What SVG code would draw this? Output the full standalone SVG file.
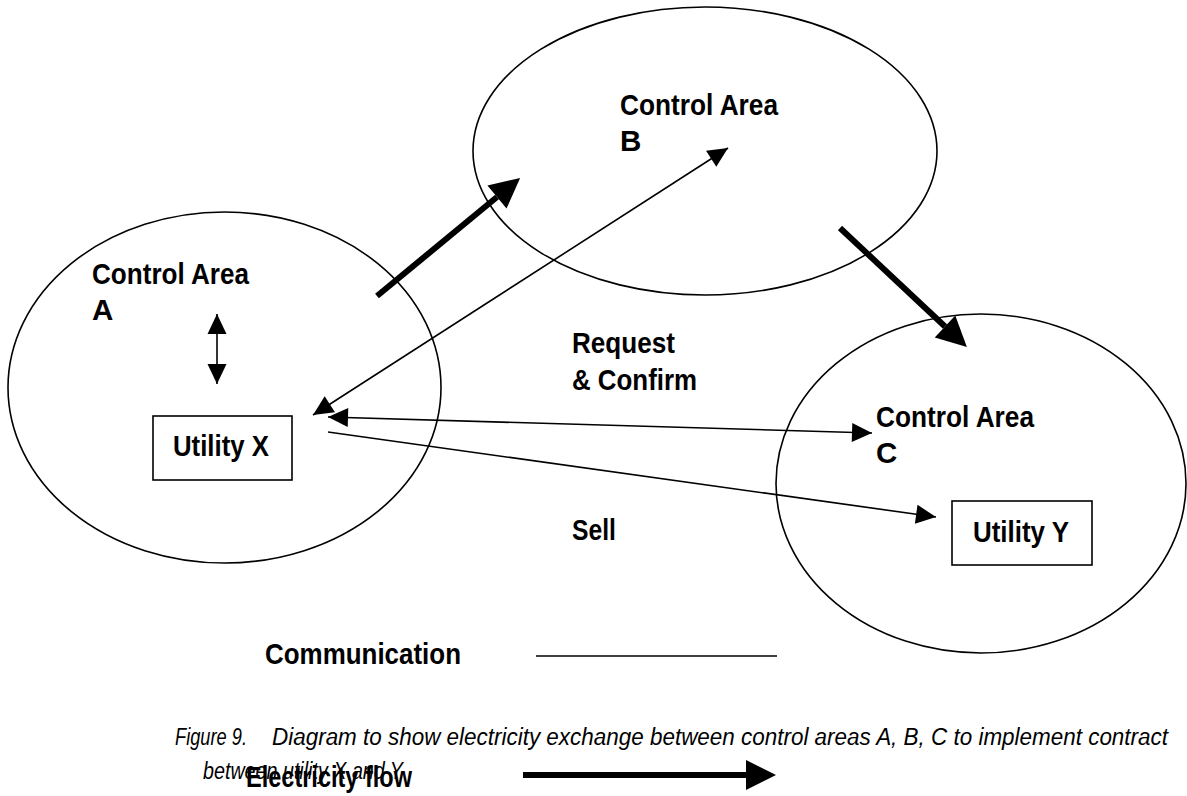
<svg xmlns="http://www.w3.org/2000/svg" width="1187" height="796" viewBox="0 0 1187 796">
  <style>
    .area { fill: none; stroke: #000; stroke-width: 1.6; }
    .box { fill: #fff; stroke: #000; stroke-width: 1.6; }
    .lbl { font-family: "Liberation Sans Narrow", "Liberation Sans", Arial, sans-serif; font-weight: bold; font-size: 29.5px; fill: #000; }
    .cap { font-family: "Liberation Sans Narrow", "Liberation Sans", Arial, sans-serif; font-style: italic; font-size: 23px; fill: #000; }
    .comm { fill: none; stroke: #000; stroke-width: 1.6; }
    .flow { fill: none; stroke: #000; stroke-width: 6; }
  </style>
  <defs>
    <marker id="thinHead" markerUnits="userSpaceOnUse" markerWidth="20" markerHeight="19" refX="20" refY="9.5" orient="auto-start-reverse" overflow="visible">
      <path d="M0,0 L20,9.5 L0,19 z" fill="#000"/>
    </marker>
    <marker id="thickHead" markerUnits="userSpaceOnUse" markerWidth="30" markerHeight="30" refX="0" refY="15" orient="auto" overflow="visible">
      <path d="M0,0 L30,15 L0,30 z" fill="#000"/>
    </marker>
  </defs>

  <!-- control areas -->
  <g id="area-a">
    <ellipse class="area" cx="224.5" cy="387.5" rx="216.5" ry="175.5"/>
    <text class="lbl" x="92" y="284" textLength="157" lengthAdjust="spacingAndGlyphs">Control Area</text>
    <text class="lbl" x="92" y="320">A</text>
  </g>
  <g id="area-b">
    <ellipse class="area" cx="705" cy="151" rx="232" ry="144"/>
    <text class="lbl" x="620" y="115" textLength="158" lengthAdjust="spacingAndGlyphs">Control Area</text>
    <text class="lbl" x="620" y="151">B</text>
  </g>
  <g id="area-c">
    <ellipse class="area" cx="981" cy="483.5" rx="205" ry="169.5"/>
    <text class="lbl" x="876" y="427" textLength="158" lengthAdjust="spacingAndGlyphs">Control Area</text>
    <text class="lbl" x="876" y="463">C</text>
  </g>

  <!-- utilities -->
  <g id="utility-x">
    <rect class="box" x="153" y="416" width="139" height="64"/>
    <text class="lbl" x="173" y="456" textLength="96" lengthAdjust="spacingAndGlyphs">Utility X</text>
  </g>
  <g id="utility-y">
    <rect class="box" x="952" y="501" width="140" height="64"/>
    <text class="lbl" x="973" y="542" textLength="96" lengthAdjust="spacingAndGlyphs">Utility Y</text>
  </g>

  <!-- connectors -->
  <g id="connectors">
    <!-- communication links -->
    <line class="comm" x1="217" y1="314" x2="217" y2="384" marker-start="url(#thinHead)" marker-end="url(#thinHead)"/>
    <line class="comm" x1="313" y1="415" x2="728" y2="148" marker-start="url(#thinHead)" marker-end="url(#thinHead)"/>
    <line class="comm" x1="328" y1="417" x2="872" y2="433" marker-start="url(#thinHead)" marker-end="url(#thinHead)"/>
    <line class="comm" x1="328" y1="432" x2="936" y2="517" marker-end="url(#thinHead)"/>
    <!-- electricity flow -->
    <line class="flow" x1="377" y1="296" x2="497" y2="197" marker-end="url(#thickHead)"/>
    <line class="flow" x1="840" y1="228" x2="945" y2="326.5" marker-end="url(#thickHead)"/>
  </g>

  <!-- link labels -->
  <g id="labels">
    <text class="lbl" x="572" y="353" textLength="103" lengthAdjust="spacingAndGlyphs">Request</text>
    <text class="lbl" x="572" y="390" textLength="125" lengthAdjust="spacingAndGlyphs">&amp; Confirm</text>
    <text class="lbl" x="572" y="540" textLength="44" lengthAdjust="spacingAndGlyphs">Sell</text>
  </g>

  <!-- legend -->
  <g id="legend">
    <text class="lbl" x="265" y="664" textLength="196" lengthAdjust="spacingAndGlyphs">Communication</text>
    <line class="comm" x1="536" y1="656" x2="777" y2="656"/>
    <line class="flow" x1="523" y1="775" x2="746" y2="775" marker-end="url(#thickHead)"/>
  </g>

  <!-- caption -->
  <g id="caption">
    <text class="cap" x="175" y="745" textLength="72" lengthAdjust="spacingAndGlyphs">Figure  9.</text>
    <text class="cap" x="272" y="745" textLength="896" lengthAdjust="spacingAndGlyphs">Diagram to show electricity exchange between control areas A, B, C to implement contract</text>
    <text class="cap" x="203" y="779" textLength="200" lengthAdjust="spacingAndGlyphs">between utility X and Y</text>
  </g>
  <text class="lbl" x="246" y="787" textLength="166" lengthAdjust="spacingAndGlyphs">Electricity flow</text>
</svg>
